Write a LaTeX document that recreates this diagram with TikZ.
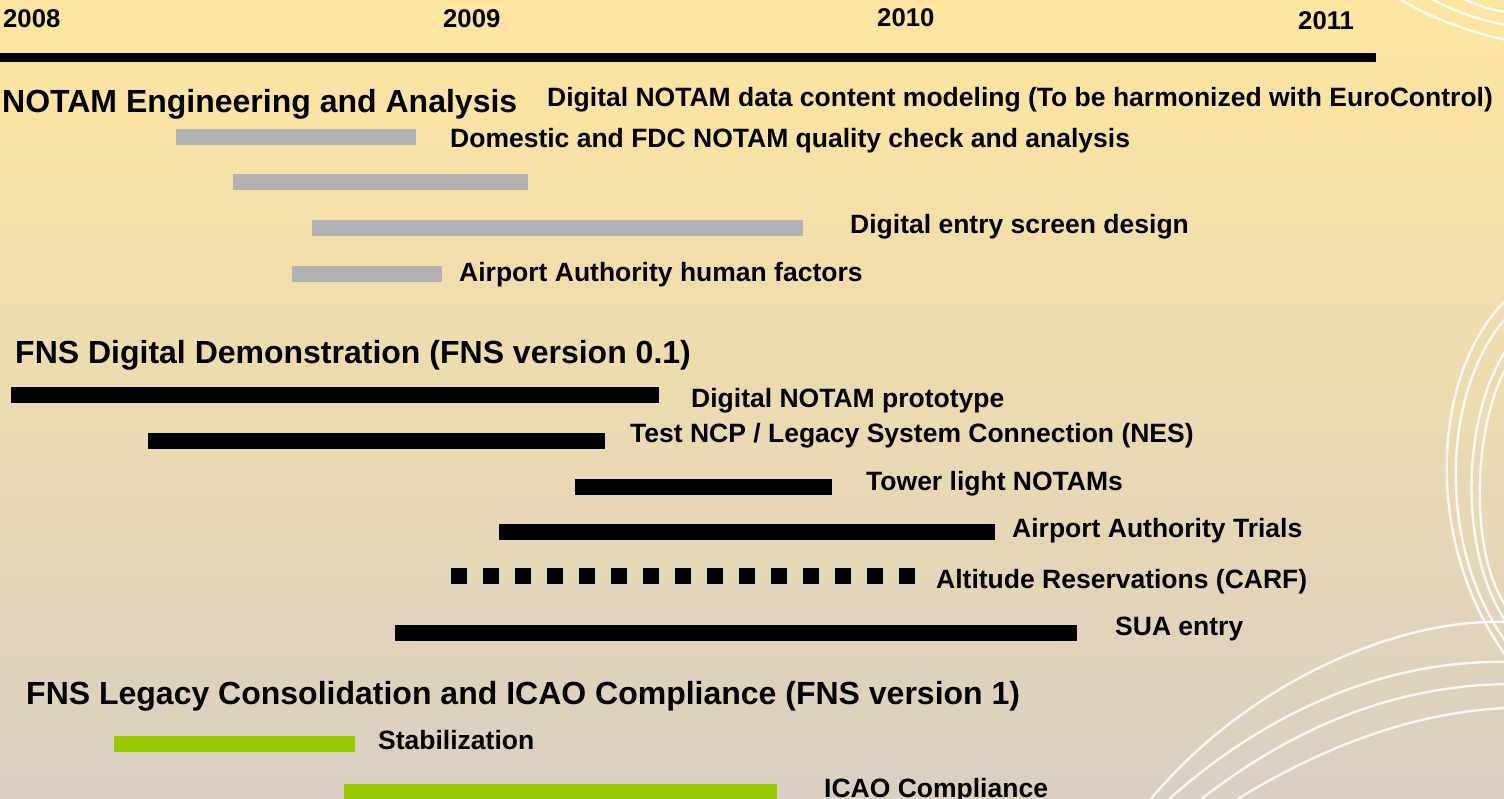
\documentclass[tikz,border=0pt]{standalone}
\usepackage{fontspec}
\setmainfont{Liberation Sans}
\definecolor{barGray}{RGB}{178,178,178}
\definecolor{barGreen}{RGB}{153,204,0}
\definecolor{bgTop}{RGB}{254,230,160}
\definecolor{bgMid}{RGB}{250,225,168}
\definecolor{bgBot}{RGB}{218,207,194}

\begin{document}
\begin{tikzpicture}[x=1pt,y=-1pt,
  year/.style={anchor=base west, inner sep=0pt, font=\fontsize{25.7}{30}\selectfont\bfseries},
  head/.style={anchor=base west, inner sep=0pt, font=\fontsize{32}{38}\selectfont\bfseries},
  task/.style={anchor=base west, inner sep=0pt, font=\fontsize{26.5}{32}\selectfont\bfseries},
  graybar/.style={fill=barGray},
  blackbar/.style={fill=black},
  greenbar/.style={fill=barGreen},
  sqdash/.style={draw=black, line width=16pt, line cap=butt, dash pattern=on 16pt off 16pt},
  swirl/.style={draw=white, line width=2.4pt, opacity=0.85, line cap=round}]

% page and background
\useasboundingbox (0,0) rectangle (1504,798);
\shade[top color=bgTop, middle color=bgMid, bottom color=bgBot] (0,0) rectangle (1504,798);

% decorative white swirls
\begin{scope}
\clip (0,0) rectangle (1504,798);
\draw[swirl] (1398,-2) .. controls (1430,18) and (1470,32) .. (1506,40);
\draw[swirl] (1430,-2) .. controls (1455,12) and (1480,20) .. (1506,25);
\draw[swirl] (1462,-2) .. controls (1478,6) and (1492,10) .. (1506,12);

\draw[swirl] (1506,300) .. controls (1432,372) and (1422,540) .. (1506,656);
\draw[swirl] (1506,318) .. controls (1442,390) and (1436,545) .. (1506,642);
\draw[swirl] (1506,350) .. controls (1462,418) and (1458,550) .. (1506,622);
\draw[swirl] (1506,368) .. controls (1472,430) and (1470,555) .. (1506,606);

\draw[swirl] (1150,800) .. controls (1250,680) and (1400,618) .. (1506,622);
\draw[swirl] (1168,800) .. controls (1280,700) and (1400,660) .. (1506,662);
\draw[swirl] (1200,800) .. controls (1300,722) and (1400,686) .. (1506,684);
\draw[swirl] (1236,800) .. controls (1330,742) and (1420,712) .. (1506,708);
\end{scope}

% time axis
\node[year] (y2008) at (3,27) {2008};
\node[year] (y2009) at (443,27) {2009};
\node[year] (y2010) at (877,26) {2010};
\node[year] (y2011) at (1298,29) {2011};
\fill[black] (0,53) rectangle (1376,62);

% NOTAM Engineering and Analysis
\node[head] (hEng) at (2,112) {NOTAM Engineering and Analysis};
\node[task] (tModel) at (547,106) {Digital NOTAM data content modeling (To be harmonized with EuroControl)};
\fill[graybar] (176,129) rectangle (416,145);
\node[task] (tQual) at (450,147) {Domestic and FDC NOTAM quality check and analysis};
\fill[graybar] (233,174) rectangle (528,190);
\fill[graybar] (312,220) rectangle (803,236);
\node[task] (tScreen) at (850,233) {Digital entry screen design};
\fill[graybar] (292,266) rectangle (442,282);
\node[task] (tHuman) at (459,281) {Airport Authority human factors};

% FNS Digital Demonstration
\node[head] (hDemo) at (15,363) {FNS Digital Demonstration (FNS version 0.1)};
\fill[blackbar] (11,387) rectangle (659,403);
\node[task] (tProto) at (691,407) {Digital NOTAM prototype};
\fill[blackbar] (148,433) rectangle (605,449);
\node[task] (tNCP) at (630,442) {Test NCP / Legacy System Connection (NES)};
\fill[blackbar] (575,479) rectangle (832,495);
\node[task] (tTower) at (866,490) {Tower light NOTAMs};
\fill[blackbar] (499,524) rectangle (995,540);
\node[task] (tTrials) at (1012,537) {Airport Authority Trials};
\draw[sqdash] (451,576) -- (915,576);
\node[task] (tCARF) at (936,588) {Altitude Reservations (CARF)};
\fill[blackbar] (395,625) rectangle (1077,641);
\node[task] (tSUA) at (1115,635) {SUA entry};

% FNS Legacy Consolidation
\node[head] (hLegacy) at (26,704) {FNS Legacy Consolidation and ICAO Compliance (FNS version 1)};
\fill[greenbar] (114,736) rectangle (355,752);
\node[task] (tStab) at (378,749) {Stabilization};
\fill[greenbar] (344,784) rectangle (777,800);
\node[task] (tICAO) at (824,797) {ICAO Compliance};
\end{tikzpicture}
\end{document}
